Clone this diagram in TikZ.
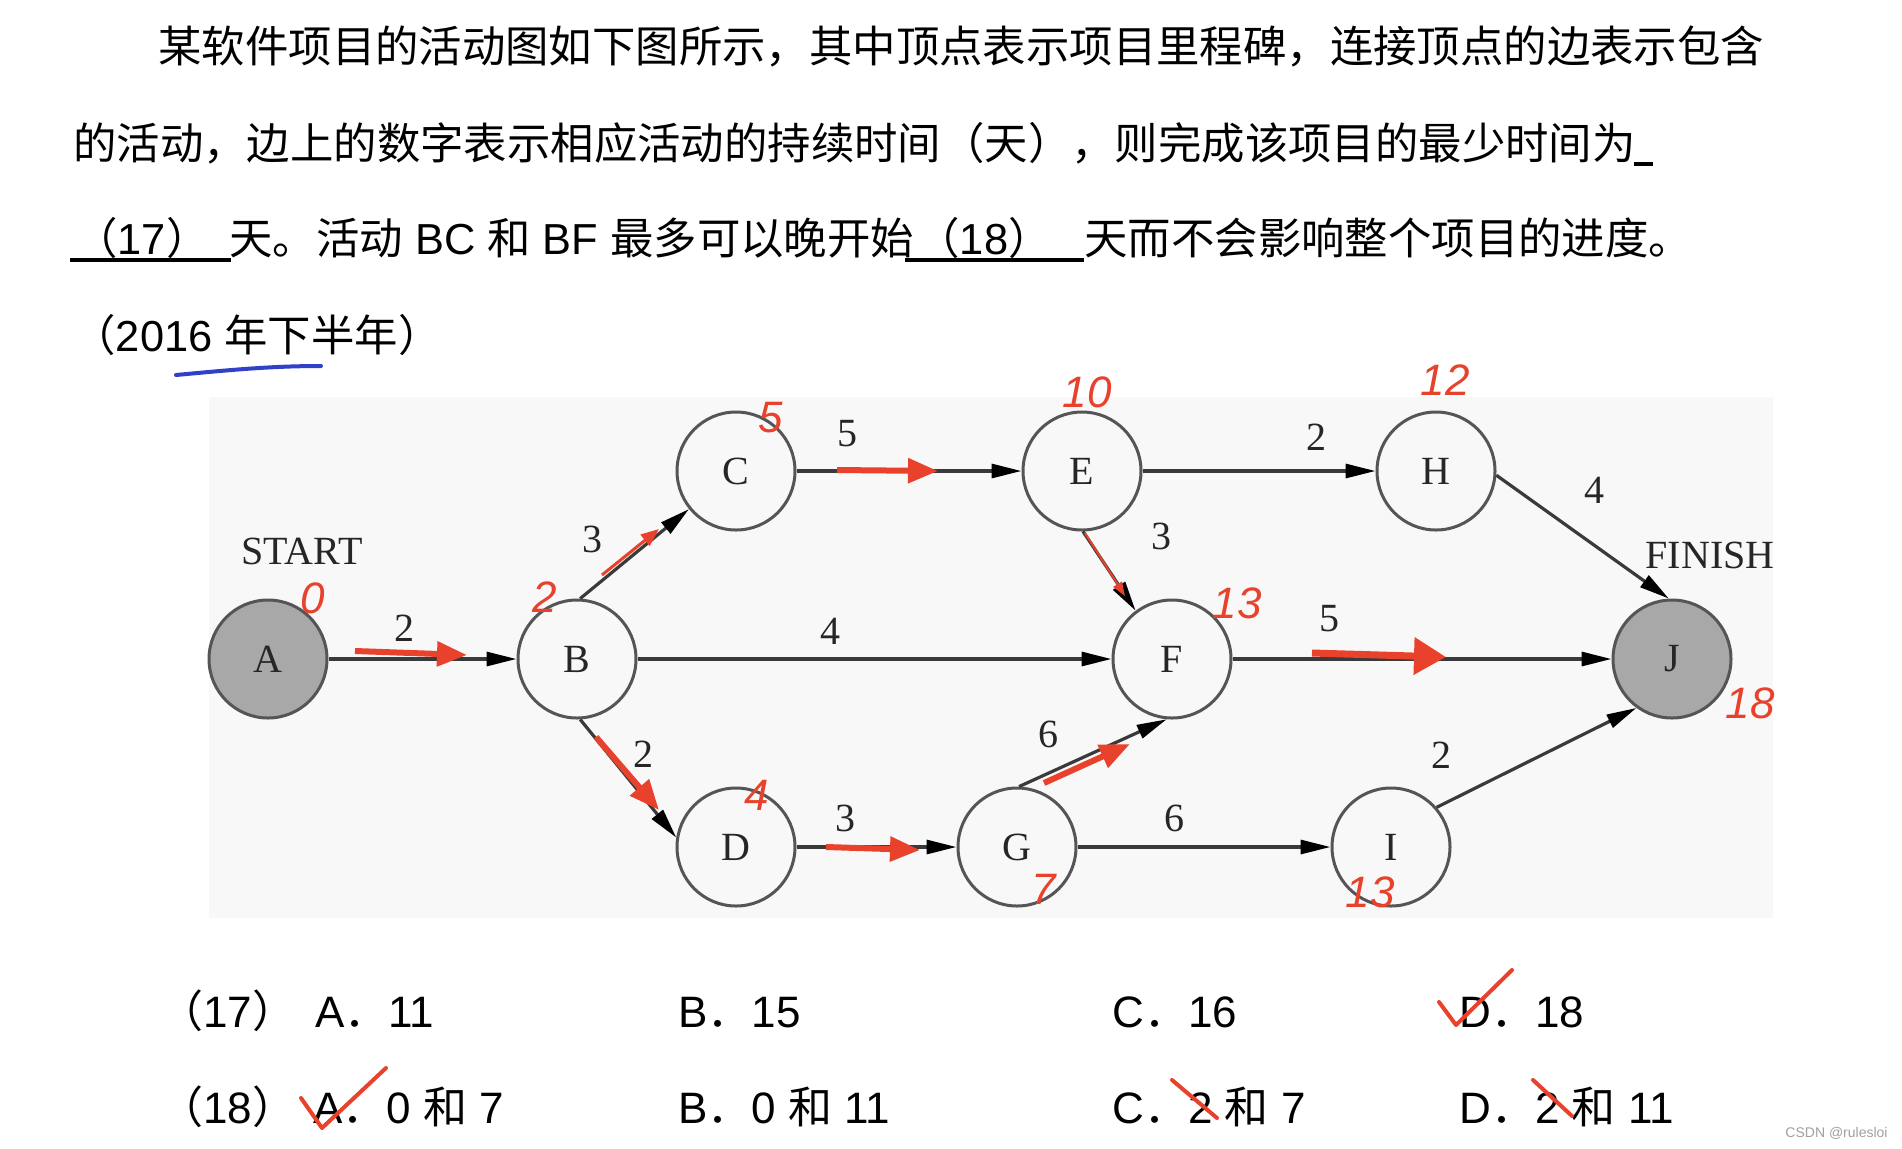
\documentclass[tikz,border=0pt]{standalone}
\usepackage{graphicx}
\usepackage{fontspec}
\setmainfont{Liberation Sans}
\newfontfamily\cjk{Noto Sans CJK SC}
\newfontfamily\tms{Liberation Serif}
\newfontfamily\hand{Liberation Sans}
\usetikzlibrary{arrows.meta}
\definecolor{vgray}{HTML}{555555}
\definecolor{egray}{HTML}{3A3A3A}
\definecolor{nfill}{HTML}{A8A8A8}
\definecolor{hred}{HTML}{E8412C}
\definecolor{hblue}{HTML}{3040C8}
\definecolor{bgd}{HTML}{F8F8F8}
\definecolor{wm}{HTML}{A0A0A0}
\newcommand{\zh}[1]{{\cjk #1}}
\newcommand{\qfont}{\fontsize{21.7}{26}\selectfont}
\newcommand{\ofont}{\fontsize{22}{26}\selectfont}
\newcommand{\gfont}{\tms\fontsize{20}{24}\selectfont}
\begin{document}
\begin{tikzpicture}[x=0.5pt,y=-0.5pt,
  vtx/.style={circle, draw=vgray, line width=1.5pt, minimum size=59pt, inner sep=0pt, font=\gfont, text=black!85},
  vtxf/.style={vtx, fill=nfill},
  edge/.style={draw=egray, line width=1.6pt, -{Triangle[length=15pt,width=7pt,color=black]}},
  elabel/.style={font=\gfont, text=black!85, inner sep=0pt},
  qtext/.style={anchor=base west, inner sep=0pt, font=\qfont},
  opt/.style={anchor=base west, inner sep=0pt, font=\ofont},
  redbig/.style={draw=hred, line width=3pt, -{Triangle[length=15pt,width=12pt,color=hred]}},
  redthin/.style={draw=hred, line width=1.5pt, -{Triangle[length=9pt,width=7pt,color=hred]}},
  hnum/.style={text=hred, font=\hand\itshape\fontsize{22}{26}\selectfont, inner sep=0pt},
  hstroke/.style={draw=hred, line width=2pt, line cap=round, line join=round}
]
\fill[white] (0,0) rectangle (1902,1148);
\useasboundingbox (0,0) rectangle (1902,1148);

% ---------- question text ----------
\node[qtext] (q1) at (158,62) {\zh{某软件项目的活动图如下图所示，其中顶点表示项目里程碑，连接顶点的边表示包含}};
\node[qtext] (q2) at (73,159) {\zh{的活动，边上的数字表示相应活动的持续时间（天），则完成该项目的最少时间为}};
\draw[line width=2pt] (1634,164) -- (1653,164);

\draw[line width=2pt] (70,260) -- (231,260);
\node[anchor=base, inner sep=0pt, font=\qfont] (q17) at (142,254) {\zh{（}17\zh{）}};
\node[qtext] (q3a) at (229,254) {\zh{天。活动} BC \zh{和} BF \zh{最多可以晚开始}};
\draw[line width=2pt] (905,260) -- (1084,260);
\node[anchor=base, inner sep=0pt, font=\qfont] (q18) at (984,254) {\zh{（}18\zh{）}};
\node[qtext] (q3b) at (1084,254) {\zh{天而不会影响整个项目的进度。}};

\node[anchor=base, inner sep=0pt, font=\qfont] (q4) at (257,351) {\zh{（}2016 \zh{年下半年）}};
\draw[draw=hblue, line width=2pt, line cap=round] (176,375) .. controls (230,370) and (270,366) .. (321,366);

% ---------- diagram ----------
\fill[bgd] (209,397) rectangle (1773,918);

\node[vtxf] (A) at (268,659) {A};
\node[vtx]  (B) at (577,659) {B};
\node[vtx]  (C) at (736,471) {C};
\node[vtx]  (D) at (736,847) {D};
\node[vtx]  (E) at (1082,471) {E};
\node[vtx]  (F) at (1172,659) {F};
\node[vtx]  (G) at (1017,847) {G};
\node[vtx]  (H) at (1436,471) {H};
\node[vtx]  (I) at (1391,847) {I};
\node[vtxf] (J) at (1672,659) {J};

\node[elabel] (start) at (302,551) {START};
\node[elabel] (finish) at (1710,555) {FINISH};

\draw[edge] (A) -- (B);
\draw[edge] (B.87) -- (C.219);
\draw[edge] (B) -- (F);
\draw[edge] (B.273) -- (D.171);
\draw[edge] (C) -- (E);
\draw[edge] (D) -- (G);
\draw[edge] (E) -- (H);
\draw[edge] (E.271) -- (F.127);
\draw[edge] (G.88) -- (F.265);
\draw[edge] (G) -- (I);
\draw[edge] (H.356) -- (J.93);
\draw[edge] (F) -- (J);
\draw[edge] (I.41) -- (J.234);

\node[elabel] (lAB) at (404,628) {2};
\node[elabel] (lBC) at (592,539) {3};
\node[elabel] (lCE) at (847,434) {5};
\node[elabel] (lBF) at (830,631) {4};
\node[elabel] (lBD) at (643,754) {2};
\node[elabel] (lDG) at (845,818) {3};
\node[elabel] (lEH) at (1316,437) {2};
\node[elabel] (lEF) at (1161,536) {3};
\node[elabel] (lHJ) at (1594,490) {4};
\node[elabel] (lFJ) at (1329,619) {5};
\node[elabel] (lGF) at (1048,734) {6};
\node[elabel] (lGI) at (1174,818) {6};
\node[elabel] (lIJ) at (1441,755) {2};

% ---------- red annotations ----------
\draw[redbig] (355,651) -- (467,655);
\draw[redthin] (602,575) -- (659,529);
\draw[redbig] (837,470) -- (938,471);
\draw[redbig] (596,737) -- (659,810);
\draw[redbig] (826,847) -- (920,850);
\draw[draw=hred, line width=1pt, -{Triangle[length=7pt,width=5pt,color=hred]}] (1085,533) -- (1125,596);
\draw[redbig] (1044,783) -- (1130,744);
\draw[draw=hred, line width=3.5pt, -{Triangle[length=16pt,width=18pt,color=hred]}] (1312,653) -- (1446,657);

\node[hnum] (n0) at (313,598) {0};
\node[hnum] (n2) at (545,597) {2};
\node[hnum] (n5) at (771,418) {5};
\node[hnum] (n4) at (757,795) {4};
\node[hnum] (n7) at (1044,889) {7};
\node[hnum] (n10) at (1087,392) {10};
\node[hnum] (n12) at (1445,380) {12};
\node[hnum] (n13a) at (1237,603) {13};
\node[hnum] (n18) at (1750,703) {18};
\node[hnum] (n13b) at (1370,892) {13};

% ---------- options ----------
\node[anchor=base, inner sep=0pt, font=\ofont] (o17) at (228,1027) {\zh{（}17\zh{）}};
\node[opt] (o17a) at (315,1027) {A\zh{．}11};
\node[opt] (o17b) at (678,1027) {B\zh{．}15};
\node[opt] (o17c) at (1112,1027) {C\zh{．}16};
\node[opt] (o17d) at (1459,1027) {D\zh{．}18};

\node[anchor=base, inner sep=0pt, font=\ofont] (o18) at (228,1123) {\zh{（}18\zh{）}};
\node[opt] (o18a) at (313,1123) {A\zh{．}0 \zh{和} 7};
\node[opt] (o18b) at (678,1123) {B\zh{．}0 \zh{和} 11};
\node[opt] (o18c) at (1112,1123) {C\zh{．}2 \zh{和} 7};
\node[opt] (o18d) at (1459,1123) {D\zh{．}2 \zh{和} 11};

\draw[hstroke] (1439,1002) -- (1456,1025) -- (1512,970);
\draw[hstroke] (301,1098) -- (322,1128) -- (386,1068);
\draw[hstroke] (1172,1080) -- (1217,1118);
\draw[hstroke] (1533,1080) -- (1572,1116);

\node[anchor=east, inner sep=0pt, text=wm, font=\fontsize{7}{8}\selectfont] (wmk) at (1888,1133) {CSDN @rulesloi};
\end{tikzpicture}
\end{document}
